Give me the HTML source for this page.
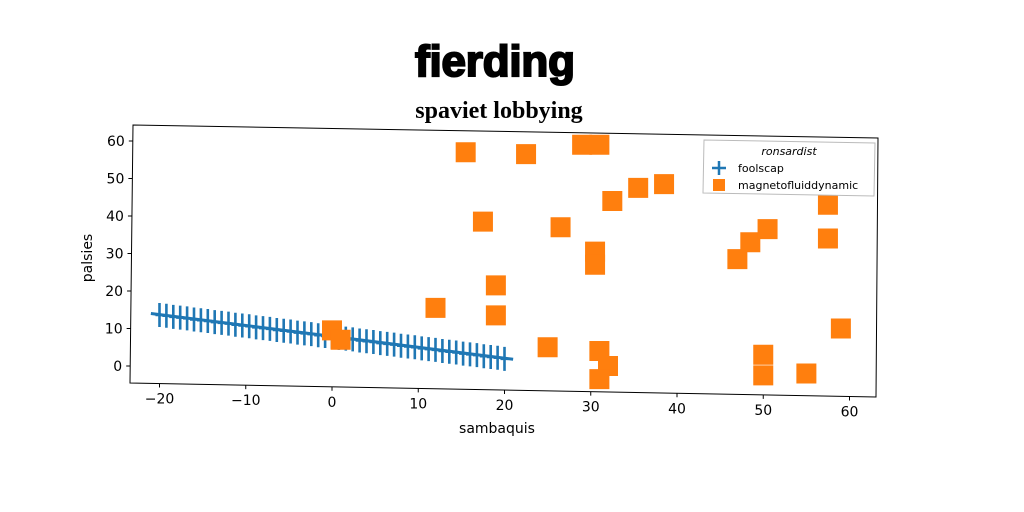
<!DOCTYPE html>
<html><head><meta charset="utf-8"><style>
body{margin:0;background:#fff;}
svg{display:block;}
text{font-family:"DejaVu Sans","Liberation Sans",sans-serif;}
</style></head><body>
<svg id="c" width="1024" height="512" xmlns="http://www.w3.org/2000/svg">
<text x="495" y="76" text-anchor="middle" textLength="160" style="font-family:'Liberation Sans',sans-serif;font-weight:900;font-size:44px" stroke="#000" stroke-width="2">fierding</text>
<text x="499" y="118" text-anchor="middle" style="font-family:'Liberation Serif',serif;font-weight:bold;font-size:24px">spaviet lobbying</text>
<g id="plot"></g>
</svg>
<script>
const fooX=[-20,-19.2,-18.4,-17.6,-16.8,-16,-15.2,-14.4,-13.6,-12.8,-12,-11.2,-10.4,-9.6,-8.8,-8,-7.2,-6.4,-5.6,-4.8,-4,-3.2,-2.4,-1.6,-0.8,0,0.8,1.6,2.4,3.2,4,4.8,5.6,6.4,7.2,8,8.8,9.6,10.4,11.2,12,12.8,13.6,14.4,15.2,16,16.8,17.6,18.4,19.2,20];
const fooY=[13.6,13.4,13.1,12.9,12.7,12.4,12.2,12.0,11.7,11.5,11.3,11.0,10.8,10.6,10.3,10.1,9.9,9.6,9.4,9.2,8.9,8.7,8.5,8.2,8.0,7.8,7.5,7.3,7.1,6.8,6.6,6.4,6.1,5.9,5.7,5.4,5.2,5.0,4.7,4.5,4.3,4.0,3.8,3.6,3.3,3.1,2.9,2.6,2.4,2.2,1.9];
const lineX=[-21,21];
const lineY=[14,1.8];
const magX=[15.5,22.5,29,31,17.5,26.5,32.5,35.5,38.5,30.5,30.5,19,19,12,0,1,25,31,32,31,47,48.5,50.5,57.5,57.5,59,50,50,55];
const magY=[57,56.5,59,59,38.5,37,44,47.5,48.5,30.5,27,21.5,13.5,15.5,9.5,7,5,4,0,-3.5,28.5,33,36.5,43,34,10,3,-2.5,-2];
const xTicks=[-20,-10,0,10,20,30,40,50,60];
const yTicks=[0,10,20,30,40,50,60];
const sx=v=>332+v*8.625;
const sy=v=>366-v*3.75;
const g=document.getElementById('plot');
const NS='http://www.w3.org/2000/svg';
function mk(t,a,p){const e=document.createElementNS(NS,t);for(const k in a)e.setAttribute(k,a[k]);(p||g).appendChild(e);return e;}
const botY=x=>383+(x-130)*14/746;
let e=mk('polygon',{points:'133,125 878,138 876,397 130,383',fill:'none',stroke:'#000','stroke-width':1});


xTicks.forEach(v=>{
 const X=sx(v),by=botY(X);
 let t=mk('line',{x1:X,x2:X,y1:by,y2:by+4,stroke:'#000'});
 
 
 let l=mk('text',{x:X,y:by+20,'text-anchor':'middle','font-size':14});
 l.textContent=v<0?'\u2212'+(-v):v;
 
 
});
yTicks.forEach(v=>{
 const Y=sy(v),lx=133-3*(Y-125)/258;
 let t=mk('line',{x1:lx-4,x2:lx,y1:Y,y2:Y,stroke:'#000'});
 
 
 let l=mk('text',{x:lx-8,y:Y+5,'text-anchor':'end','font-size':14});
 l.textContent=v;
 
 
});
let xl=mk('text',{x:497,y:433,'text-anchor':'middle','font-size':14});
xl.textContent='sambaquis';


let yl=mk('text',{x:0,y:0,'text-anchor':'middle','font-size':14,transform:'translate(92 258) rotate(-90)'});
yl.textContent='palsies';


let ln=mk('polyline',{points:lineX.map((x,i)=>sx(x)+','+sy(lineY[i])).join(' '),fill:'none',stroke:'#1f77b4','stroke-width':3});


fooX.forEach((x,i)=>{
 let p=mk('path',{d:`M${sx(x)} ${sy(fooY[i])-12}v24M${sx(x)-4} ${sy(fooY[i])}h8`,stroke:'#1f77b4','stroke-width':2.6});
 
 
});
magX.forEach((x,i)=>{
 let r=mk('rect',{x:sx(x)-10,y:sy(magY[i])-10,width:20,height:20,fill:'#ff7f0e'});
 
 
});
const lg=mk('g',{});


mk('polygon',{points:'704,140 875,143 874,196 703,193',fill:'#fff',stroke:'#bbb'},lg);
let lt=mk('text',{x:789,y:155,'text-anchor':'middle','font-size':11,'font-style':'italic'},lg);
lt.textContent='ronsardist';
mk('path',{d:'M712 168h14M719 161v14',stroke:'#1f77b4','stroke-width':2.5},lg);
let l1=mk('text',{x:738,y:172,'font-size':11},lg);l1.textContent='foolscap';


mk('rect',{x:713,y:179,width:12,height:12,fill:'#ff7f0e'},lg);
let l2=mk('text',{x:738,y:189,'font-size':11},lg);l2.textContent='magnetofluiddynamic';


</script>
</body></html>
